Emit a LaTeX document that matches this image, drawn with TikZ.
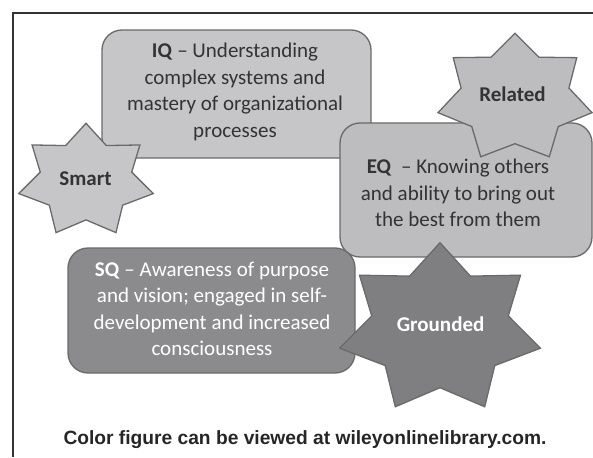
\documentclass[tikz,border=0pt]{standalone}
\usepackage{fontspec}
\setmainfont{Carlito}
\newfontfamily\capfont{Liberation Sans}
\definecolor{lightA}{HTML}{C6C6C8}
\definecolor{lightB}{HTML}{BDBDC0}
\definecolor{darkA}{HTML}{8B8B8E}
\definecolor{darkB}{HTML}{7F7F82}
\definecolor{edgegray}{HTML}{6A6A6A}
\definecolor{txtdark}{HTML}{333333}
\newcommand{\starshapepath}[6]{%
  \draw[#1,shift={(#2,#3)}] (90:{#4} and {#5})
    \foreach \k [evaluate=\k as \sx using {#4*(1-(1-#6)*mod(\k,2))},
                 evaluate=\k as \sy using {#5*(1-(1-#6)*mod(\k,2))}] in {1,...,13}
      { -- ({90+\k*360/14}:{\sx} and {\sy}) }
    -- cycle;
}
\begin{document}
\begin{tikzpicture}[x=1pt,y=1pt,
  boxstyle/.style={draw=edgegray,line width=1.3pt,rounded corners=20pt,inner sep=0pt},
  starstyle/.style={draw=edgegray,line width=1.3pt,line join=miter},
  bodytext/.style={align=center,inner sep=0pt,font=\fontsize{21}{26.5}\selectfont},
  starlabel/.style={inner sep=0pt,font=\fontsize{21}{25}\selectfont\bfseries}]
\useasboundingbox (0,0) rectangle (593,-457);
\fill[white] (0,0) rectangle (593,-457);
% frame
\draw[line width=1.2pt,color=black!80] (13,-457) -- (13,-13) -- (593,-13);
% IQ
\node[boxstyle,fill=lightA,minimum width=269pt,minimum height=128pt] (iqbox) at (236.5,-94) {};
\node[bodytext,text=txtdark] (iqtext) at (235,-92) {\textbf{IQ} – Understanding\\complex systems and\\mastery of organizational\\processes};
% Smart star
\starshapepath{starstyle,fill=lightA}{86}{-180.8}{69}{57.5}{0.68}
\node[starlabel,text=txtdark] (smart) at (85.5,-179) {Smart};
% EQ
\node[boxstyle,fill=lightB,minimum width=252pt,minimum height=134pt] (eqbox) at (466,-190) {};
\node[bodytext,text=txtdark] (eqtext) at (458,-193) {\textbf{EQ}\ \ – Knowing others\\and ability to bring out\\the best from them};
% Related star
\starshapepath{starstyle,fill=lightB}{515}{-98.2}{79}{65}{0.7}
\node[starlabel,text=txtdark] (related) at (512.5,-94.3) {Related};
% SQ
\node[boxstyle,fill=darkA,minimum width=287pt,minimum height=125pt] (sqbox) at (211.5,-310.5) {};
\node[bodytext,text=white] (sqtext) at (212,-309) {\textbf{SQ} – Awareness of purpose\\and vision; engaged in self-\\development and increased\\consciousness};
% Grounded star
\starshapepath{starstyle,fill=darkB}{440}{-329}{103}{86.3}{0.68}
\node[starlabel,text=white] (grounded) at (440.6,-324) {Grounded};
% caption
\node[inner sep=0pt,font=\capfont\fontsize{19.2}{22}\selectfont\bfseries,text=black!85] (caption) at (305,-440) {Color figure can be viewed at wileyonlinelibrary.com.};
\end{tikzpicture}
\end{document}
